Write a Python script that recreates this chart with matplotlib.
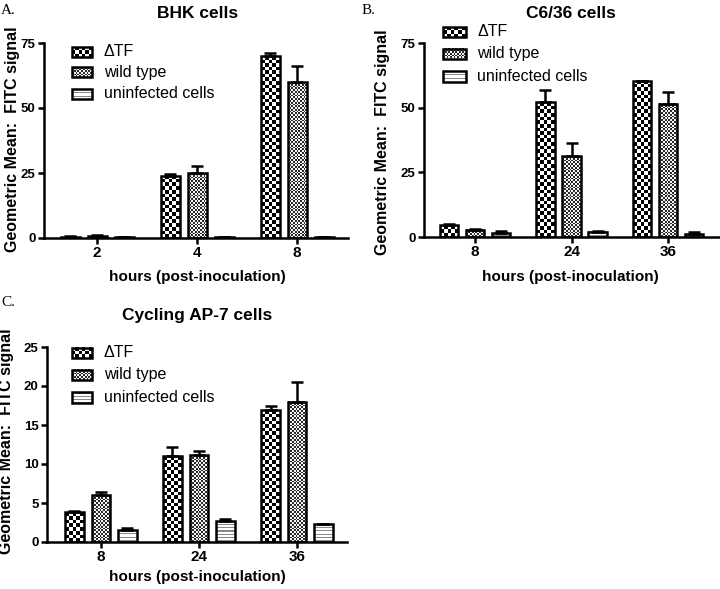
import numpy as np
import matplotlib
matplotlib.use("Agg")
import matplotlib.pyplot as plt
from matplotlib.colors import ListedColormap
from matplotlib.transforms import Affine2D
from matplotlib.patches import Rectangle

# ---------------- data ----------------
series_names = ["\u0394TF", "wild type", "uninfected cells"]

bhk_hours = ["2", "4", "8"]
bhk_dtf = [0.5, 24.0, 70.0]
bhk_dtf_err = [0.3, 0.6, 1.3]
bhk_wt = [0.7, 25.0, 60.0]
bhk_wt_err = [0.3, 2.7, 6.0]
bhk_un = [0.25, 0.25, 0.25]
bhk_un_err = [0.05, 0.05, 0.05]

c636_hours = ["8", "24", "36"]
c636_dtf = [4.5, 52.0, 60.5]
c636_dtf_err = [0.4, 4.7, 0.0]
c636_wt = [2.8, 31.3, 51.5]
c636_wt_err = [0.3, 4.9, 4.4]
c636_un = [1.5, 2.1, 1.3]
c636_un_err = [0.8, 0.2, 0.6]

ap7_hours = ["8", "24", "36"]
ap7_dtf = [3.8, 11.0, 16.9]
ap7_dtf_err = [0.2, 1.2, 0.5]
ap7_wt = [6.0, 11.1, 17.95]
ap7_wt_err = [0.35, 0.6, 2.55]
ap7_un = [1.6, 2.7, 2.35]
ap7_un_err = [0.2, 0.2, 0.0]

# ---------------- helpers ----------------
W, H = 720, 589
fig = plt.figure(figsize=(W / 100, H / 100), dpi=100)
PX = Affine2D().scale(1, -1).translate(0, H)  # reference pixels (top-left origin) -> display

FONT = "Liberation Sans"
SERIF = "Liberation Serif"
LW = 1.8


def pattern(kind, wpx, hpx):
    if kind == "dtf":
        c = 3.6
        nx = max(2, int(round(wpx / c)))
        ny = max(1, int(round(hpx / c)))
        arr = np.indices((ny, nx)).sum(0) % 2
        return arr, ["white", "black"]
    if kind == "wt":
        c = 1.8
        nx = max(2, int(round(wpx / c)))
        ny = max(1, int(round(hpx / c)))
        arr = np.indices((ny, nx)).sum(0) % 2
        return arr, ["#f4f4f4", "#2a2a2a"]
    ny = max(1, int(round(hpx)))
    arr = np.zeros((ny, 2))
    arr[np.arange(ny) % 3 == 1, :] = 1
    return arr, ["white", "#8a8a8a"]


def fill(ax, x0, y0, x1, y1, kind, transform, z, clip=True):
    p0 = transform.transform((x0, y0))
    p1 = transform.transform((x1, y1))
    wpx = abs(p1[0] - p0[0])
    hpx = abs(p1[1] - p0[1])
    if hpx < 0.5:
        return
    arr, cols = pattern(kind, wpx, hpx)
    im = ax.imshow(arr, cmap=ListedColormap(cols), vmin=0, vmax=1,
                   extent=(x0, x1, min(y0, y1), max(y0, y1)), origin="lower",
                   interpolation="nearest", aspect="auto", transform=transform,
                   zorder=z)
    im.set_clip_on(clip)


def make_panel(box, xlim, ylim, yticks, hours, vals, errs, title, title_xy,
               xlabel_xy, ylabel_xy, letter, letter_xy, legend_px, legend_text_x):
    l, r, t, b = box
    ax = fig.add_axes([l / W, 1 - b / H, (r - l) / W, (b - t) / H])
    ax.set_xlim(*xlim)
    ax.set_ylim(*ylim)
    kinds = ["dtf", "wt", "un"]
    offs = [-0.27, 0.0, 0.27]
    x = np.arange(len(hours))
    for k, off, v, e in zip(kinds, offs, vals, errs):
        bars = ax.bar(x + off, v, width=0.19, facecolor="none", edgecolor="black",
                      linewidth=LW, zorder=3)
        ax.errorbar(x + off, v, yerr=[np.zeros(len(v)), e], fmt="none",
                    ecolor="black", elinewidth=LW, capsize=4, capthick=LW, zorder=2.5)
        for p in bars.patches:
            fill(ax, p.get_x(), 0, p.get_x() + p.get_width(), p.get_height(), k,
                 ax.transData, 2)
    ax.set_xlim(*xlim)
    ax.set_ylim(*ylim)
    for s in ["top", "right"]:
        ax.spines[s].set_visible(False)
    for s in ["left", "bottom"]:
        ax.spines[s].set_linewidth(LW)
    ax.set_xticks(x)
    ax.set_xticklabels(hours, fontfamily=FONT, fontweight="bold", fontsize=11)
    ax.set_yticks(yticks)
    ax.set_yticklabels([str(v) for v in yticks], fontfamily=FONT, fontweight="bold",
                       fontsize=9.5)
    ax.tick_params(axis="both", direction="out", length=4.5, width=LW, pad=1.5)
    ax.patch.set_visible(False)

    fig.text(title_xy[0] / W, 1 - title_xy[1] / H, title, ha="center", va="center",
             fontfamily=FONT, fontweight="bold", fontsize=12.5)
    fig.text(xlabel_xy[0] / W, 1 - xlabel_xy[1] / H, "hours (post-inoculation)",
             ha="center", va="center", fontfamily=FONT, fontweight="bold", fontsize=11)
    fig.text(ylabel_xy[0] / W, 1 - ylabel_xy[1] / H, "Geometric Mean:  FITC signal",
             ha="center", va="center", rotation=90, fontfamily=FONT,
             fontweight="bold", fontsize=11.5)
    fig.text(letter_xy[0] / W, 1 - letter_xy[1] / H, letter, ha="left",
             va="baseline", fontfamily=SERIF, fontsize=11)

    for k, name, (x0, x1, y0, y1) in zip(kinds, series_names, legend_px):
        fill(ax, x0, y0, x1, y1, k, PX, 5, clip=False)
        rect = Rectangle((x0, y0), x1 - x0, y1 - y0, transform=PX, facecolor="none",
                         edgecolor="black", linewidth=LW, zorder=6, clip_on=False)
        ax.add_patch(rect)
        fig.text(legend_text_x / W, 1 - ((y0 + y1) / 2) / H, name, ha="left",
                 va="center", fontfamily=[FONT, "DejaVu Sans"], fontsize=11.5)
    ax.set_xlim(*xlim)
    ax.set_ylim(*ylim)
    return ax


make_panel((44, 348, 43, 238), (-0.53, 2.51), (0, 75), [0, 25, 50, 75], bhk_hours,
           [bhk_dtf, bhk_wt, bhk_un], [bhk_dtf_err, bhk_wt_err, bhk_un_err],
           "BHK cells", (198, 14), (197, 277), (13, 139), "A.", (1, 14),
           [(72, 92, 47, 57), (72, 92, 67, 77), (72, 92, 88.5, 99)], 104)

make_panel((424, 719, 43, 237), (-0.53, 2.53), (0, 75), [0, 25, 50, 75], c636_hours,
           [c636_dtf, c636_wt, c636_un], [c636_dtf_err, c636_wt_err, c636_un_err],
           "C6/36 cells", (571, 14), (570, 277), (383, 142), "B.", (362, 14),
           [(443, 466, 27, 37), (443, 466, 48.5, 58.5), (443, 466, 71, 81.5)], 477)

make_panel((47, 347, 347, 542), (-0.55, 2.51), (0, 25), [0, 5, 10, 15, 20, 25],
           ap7_hours,
           [ap7_dtf, ap7_wt, ap7_un], [ap7_dtf_err, ap7_wt_err, ap7_un_err],
           "Cycling AP-7 cells", (197.5, 315), (197.5, 577), (7, 441), "C.", (1, 306),
           [(72, 92, 347.5, 358), (72, 92, 369.5, 380), (72, 92, 392, 403)], 104)

fig.savefig("out.png", dpi=100)
